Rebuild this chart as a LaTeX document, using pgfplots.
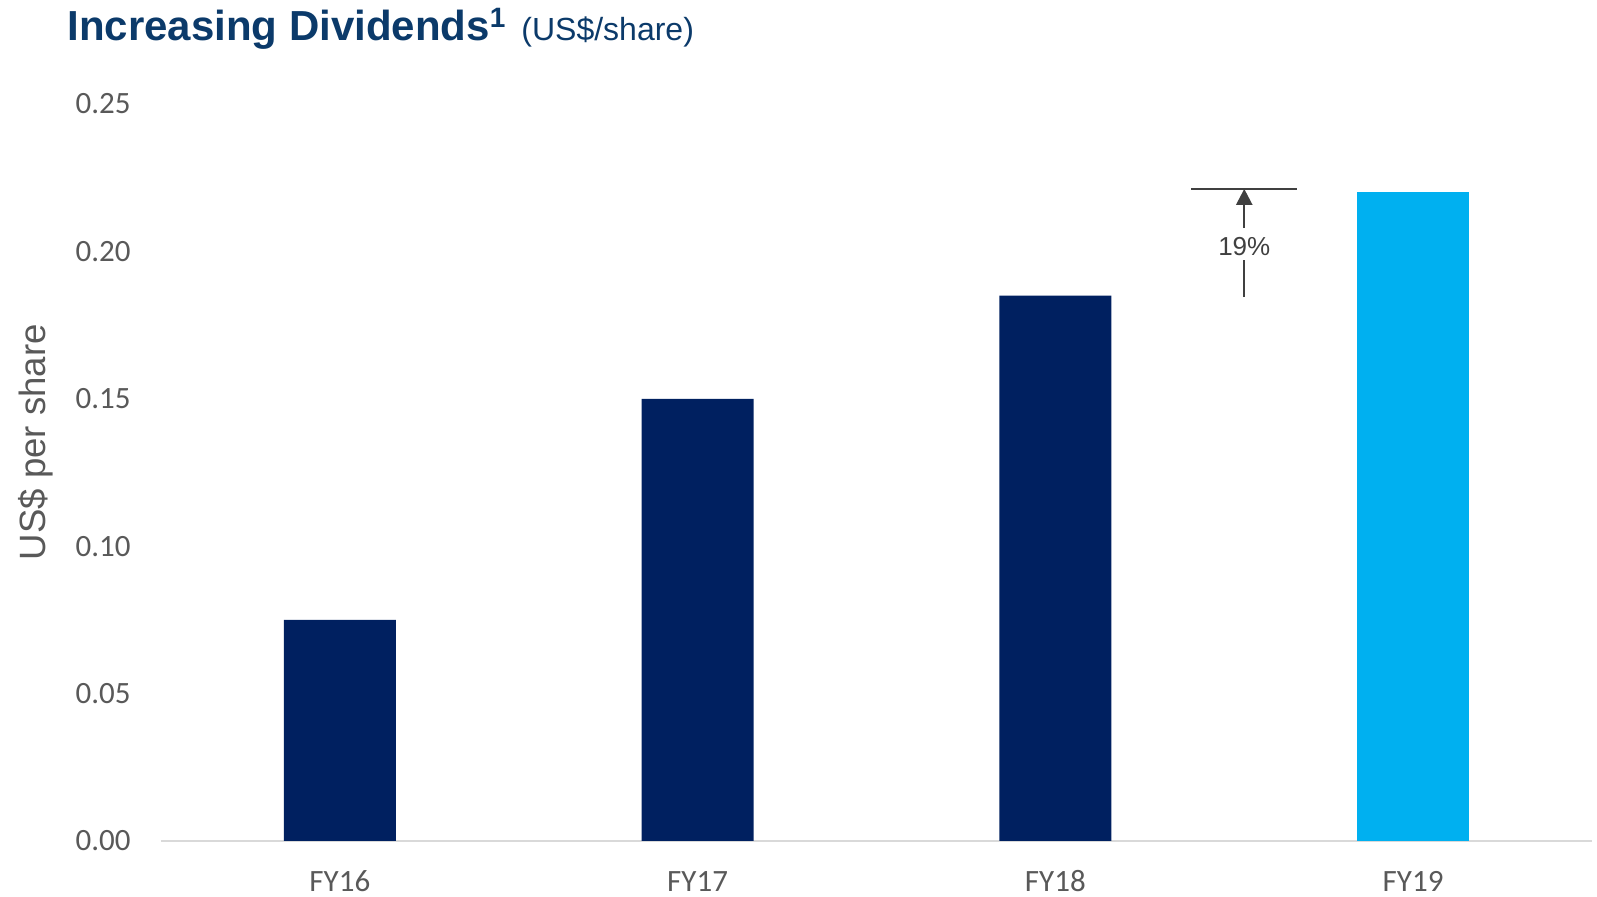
\documentclass[border=0pt]{standalone}
\usepackage{fontspec}
\setmainfont{Liberation Sans}
\newfontfamily\calibri{Carlito}
\usepackage{pgfplots}
\pgfplotsset{compat=1.18}
\usetikzlibrary{arrows.meta}

\definecolor{navy}{HTML}{002060}
\definecolor{cyanbar}{HTML}{00B0F0}
\definecolor{titleblue}{HTML}{0B3A6A}
\definecolor{txtgray}{HTML}{595959}
\definecolor{axgray}{HTML}{D9D9D9}
\definecolor{anngray}{HTML}{404040}

\begin{document}
\begin{tikzpicture}
\useasboundingbox (-80.5pt,-28pt) rectangle (718pt,420.5pt);
\begin{axis}[
    scale only axis,
    width=715.5pt, height=368.5pt,
    xmin=-0.5, xmax=3.5,
    ymin=0, ymax=0.25,
    clip=false,
    ybar, bar width=56pt, bar shift=0pt,
    xtick={0,1,2,3},
    xticklabels={FY16,FY17,FY18,FY19},
    ytick={0,0.05,0.1,0.15,0.2,0.25},
    major tick length=0pt,
    /pgf/number format/assume math mode=true,
    y tick label style={/pgf/number format/fixed,
        /pgf/number format/fixed zerofill,
        /pgf/number format/precision=2,
        anchor=east, inner sep=0pt, xshift=-15pt},
    x tick label style={anchor=base, inner sep=0pt, yshift=-25.3pt},
    ticklabel style={font=\calibri\fontsize{15.5}{18}\selectfont, text=txtgray},
    axis x line*=bottom,
    axis y line*=left,
    y axis line style={draw=none},
    x axis line style={draw=axgray, line width=1pt, -},
    ylabel={US\$ per share},
    ylabel style={at={(axis description cs:-0.0874,0.541)}, anchor=center,
        font=\fontsize{18.3}{22}\selectfont, text=txtgray},
]
\addplot[fill=navy, draw=none] coordinates {(0,0.075) (1,0.150) (2,0.185)};
\addplot[fill=cyanbar, draw=none] coordinates {(3,0.220)};

% growth marker between FY18 and FY19
\draw[anngray, line width=0.8pt] (axis cs:2.380,0.2212) -- (axis cs:2.675,0.2212);
\draw[anngray, line width=1.2pt] (axis cs:2.528,0.1845) -- (axis cs:2.528,0.1971);
\draw[anngray, line width=1.2pt, -{Triangle[length=8pt,width=8pt]}] (axis cs:2.528,0.2079) -- (axis cs:2.528,0.2212);
\node[text=anngray, font=\fontsize{13}{15}\selectfont, inner sep=0pt] at (axis cs:2.528,0.2015) {19\%};
\end{axis}
\node[anchor=base west, inner sep=0pt, text=titleblue] at (-47pt,400pt)
    {\fontsize{21}{25}\selectfont\bfseries Increasing Dividends\raisebox{6.5pt}{\fontsize{14}{16}\selectfont 1}\hspace{8pt}\fontsize{16}{19}\selectfont\mdseries (US\$/share)};
\end{tikzpicture}
\end{document}
